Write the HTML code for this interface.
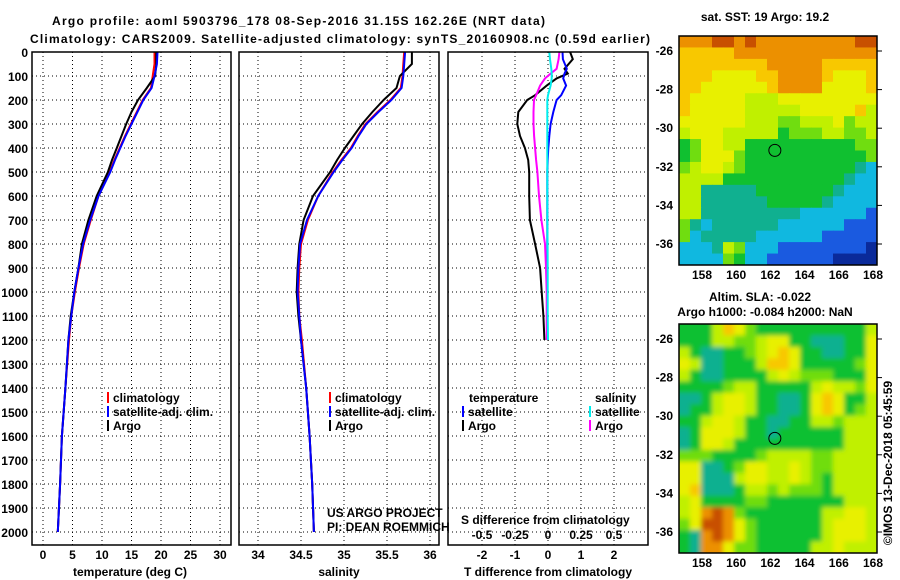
<!DOCTYPE html>
<html><head><meta charset="utf-8"><style>
html,body{margin:0;padding:0;background:#fff;}
svg{display:block;font-family:"Liberation Sans",sans-serif;}
text{font-weight:bold;font-size:12px;fill:#000;}
</style></head><body>
<svg id="fig" width="900" height="580" viewBox="0 0 900 580" xmlns="http://www.w3.org/2000/svg">
<defs>
<clipPath id="clipTop"><rect x="679" y="36" width="198" height="229"/></clipPath>
<clipPath id="clipBot"><rect x="679" y="324" width="198" height="229"/></clipPath>
<filter id="blur" x="-5%" y="-5%" width="110%" height="110%"><feGaussianBlur stdDeviation="2.5"/></filter>
</defs>
<text x="52" y="25" textLength="493" font-size="14">Argo profile: aoml 5903796_178 08-Sep-2016 31.15S 162.26E (NRT data)</text>
<text x="30" y="43" textLength="620" font-size="14">Climatology: CARS2009. Satellite-adjusted climatology: synTS_20160908.nc (0.59d earlier)</text>
<g id="g"></g>
</svg>
<script>
// ---- data ----
const depths = [0,50,100,150,200,250,300,350,400,450,500,600,700,800,900,1000,1100,1200,1400,1600,1800,2000];
const tArgo = [19.2,19.2,19.0,17.6,16.1,15.0,14.1,13.3,12.5,11.7,11.0,9.1,7.7,6.6,6.0,5.3,4.7,4.3,3.8,3.2,2.9,2.5];
const tSat  = [19.4,19.3,18.9,18.4,17.0,16.0,15.0,14.0,13.1,12.2,11.4,9.4,8.0,6.8,6.0,5.3,4.8,4.3,3.8,3.2,2.9,2.5];
const tClim = [18.9,18.9,18.6,18.3,16.9,15.9,14.9,13.9,13.0,12.1,11.3,9.4,8.1,6.9,6.1,5.4,4.8,4.4,3.8,3.2,2.9,2.5];
const sArgo = [35.79,35.79,35.65,35.61,35.46,35.33,35.21,35.11,35.01,34.92,34.84,34.64,34.53,34.48,34.46,34.45,34.47,34.50,34.56,34.60,34.63,34.65];
const sSat  = [35.71,35.70,35.69,35.67,35.55,35.40,35.26,35.17,35.09,34.98,34.88,34.70,34.57,34.49,34.47,34.46,34.48,34.50,34.56,34.60,34.63,34.65];
const sClim = [35.70,35.69,35.68,35.66,35.54,35.39,35.25,35.16,35.08,34.97,34.87,34.70,34.58,34.50,34.48,34.47,34.48,34.51,34.56,34.60,34.63,34.65];
const dDepths = [0,30,70,90,110,140,180,200,250,300,350,400,450,500,600,700,800,900,1000,1100,1200];
const dTArgo = [0.67,0.75,0.5,0.6,0.26,-0.04,-0.39,-0.63,-0.9,-0.93,-0.85,-0.7,-0.6,-0.57,-0.57,-0.55,-0.39,-0.24,-0.19,-0.14,-0.11];
const dTSat  = [0.44,0.45,0.57,0.5,0.46,0.55,0.4,0.26,0.16,0.08,0.04,0.01,-0.01,-0.02,-0.02,-0.02,-0.02,-0.02,-0.02,-0.02,-0.02];
const dSArgo = [0.086,0.08,0.065,0.02,-0.023,-0.06,-0.09,-0.106,-0.11,-0.11,-0.105,-0.098,-0.09,-0.08,-0.068,-0.05,-0.023,-0.015,-0.01,-0.01,-0.01];
const dSSat  = [0.01,0.015,0.025,0.028,0.028,0.02,0.0,-0.005,-0.005,-0.005,-0.005,-0.005,-0.005,-0.005,-0.005,-0.005,-0.003,-0.002,-0.002,-0.002,0.0];
const depthTicks = [0,100,200,300,400,500,600,700,800,900,1000,1100,1200,1300,1400,1500,1600,1700,1800,1900,2000];
const tTicks = [0,5,10,15,20,25,30];
const sTicks = [34,34.5,35,35.5,36];
const dTTicks = [-2,-1,0,1,2];
const dSTicks = [-0.5,-0.25,0,0.25,0.5];
const dSLabels = ["-0.5","-0.25","0","0.25","0.5"];
const lonTicks = [158,160,162,164,166,168];
const latTicks = [-26,-28,-30,-32,-34,-36];
const argoLon = 162.26, argoLat = -31.15;
const sstGrid = [
"999aa9a999999999aa",
"888889999999999999",
"888888889999988888",
"888777788999987778",
"887777778999977778",
"877777666777777777",
"877777666667777786",
"777777666556667566",
"677766666455566556",
"457766444444444455",
"457775444444444445",
"567765444444444432",
"666644444444444322",
"663333344444443222",
"663333334444432222",
"663333333332222221",
"532333333222222111",
"523333322222211111",
"222365222111111110",
"222254221111110000"];
const slaGrid = [
"444687544444444446",
"444665567744333447",
"643344567874433447",
"763344468874444457",
"643344446765554447",
"444456644444676657",
"334677644334787446",
"344677644334787456",
"446776443344665666",
"347776443444444666",
"347764444444444666",
"555444456666556666",
"773345776676556666",
"773336776676546666",
"783334665655546666",
"674444554444444666",
"679a95444444466776",
"57aa97544444467776",
"439a97544444467776",
"439975544444667666"];

// ---- scales ----
const Y0=52, Ybot=545;
const yD = d => Y0 + d*0.24;
const xT = t => 43 + t*5.9;
const xS = s => 258 + (s-34)*86;
const xDT = v => 548 + v*33;
const xDS = v => 548 + v*132;
const xLon = l => 702 + (l-158)*17.1;
const yLatTop = l => 51 + (-26-l)*19.3;
const yLatBot = l => 339 + (-26-l)*19.3;

const NS="http://www.w3.org/2000/svg";
const root=document.getElementById('g');
function mk(tag, attrs, parent){const e=document.createElementNS(NS,tag);for(const k in attrs)e.setAttribute(k,attrs[k]);(parent||root).appendChild(e);return e;}
function txt(x,y,s,anchor,parent,size){const e=mk('text',{x:x,y:y,'text-anchor':anchor||'start'},parent);if(size)e.setAttribute('font-size',size);e.textContent=s;return e;}

const panels=[{x0:32,x1:231,name:'temperature-panel'},{x0:239,x1:439,name:'salinity-panel'},{x0:448,x1:648,name:'difference-panel'}];
panels.forEach((p,i)=>{
  const g=mk('g',{});
  
  
  depthTicks.forEach(d=>{ if(d>0) mk('line',{x1:p.x0,x2:p.x1,y1:yD(d),y2:yD(d),stroke:'#000','stroke-width':1,'stroke-dasharray':'1,3'},g);});
  let xs = i==0? tTicks.map(xT) : i==1? sTicks.map(xS) : dTTicks.map(xDT);
  xs.forEach(x=>mk('line',{x1:x,x2:x,y1:Y0,y2:Ybot,stroke:'#000','stroke-width':1,'stroke-dasharray':'1,3'},g));
  p.g=g;
});

function series(xf, xs, ds, color, g, name){
  const pts=xs.map((v,k)=>xf(v).toFixed(1)+','+yD(ds[k]).toFixed(1)).join(' ');
  const e=mk('polyline',{points:pts,fill:'none',stroke:color,'stroke-width':2},g);
  
  
}
series(xT,tClim,depths,'#f00',panels[0].g,'temp-climatology-line');
series(xT,tArgo,depths,'#000',panels[0].g,'temp-argo-line');
series(xT,tSat,depths,'#00f',panels[0].g,'temp-satellite-line');
series(xS,sClim,depths,'#f00',panels[1].g,'sal-climatology-line');
series(xS,sArgo,depths,'#000',panels[1].g,'sal-argo-line');
series(xS,sSat,depths,'#00f',panels[1].g,'sal-satellite-line');
series(xDT,dTArgo,dDepths,'#000',panels[2].g,'tdiff-argo-line');
series(xDT,dTSat,dDepths,'#00f',panels[2].g,'tdiff-satellite-line');
series(xDS,dSArgo,dDepths,'#f0f',panels[2].g,'sdiff-argo-line');
series(xDS,dSSat,dDepths,'#0ee',panels[2].g,'sdiff-satellite-line');

panels.forEach(p=>{ mk('rect',{x:p.x0,y:Y0,width:p.x1-p.x0,height:Ybot-Y0,fill:'none',stroke:'#000','stroke-width':1.5},p.g); });

// axes labels
const ya=mk('g',{});


depthTicks.forEach(d=>txt(28,yD(d)+5,String(d),'end',ya));
function xAxis(ticks,labels,xf,name,title,tx){
  const g=mk('g',{});
  
  
  ticks.forEach((t,k)=>txt(xf(t),559,labels[k],'middle',g));
  txt(tx,576,title,'middle',g);
}
xAxis(tTicks,tTicks.map(String),xT,'temperature-x-axis','temperature (deg C)',130);
xAxis(sTicks,sTicks.map(String),xS,'salinity-x-axis','salinity',339);
xAxis(dTTicks,dTTicks.map(String),xDT,'tdiff-x-axis','T difference from climatology',548);
const sg=mk('g',{});


dSTicks.forEach((t,k)=>txt(xDS(t),539,dSLabels[k],'middle',sg));
txt(461,524,'S difference from climatology','start',sg);

// legends
function legend(x,y,color,label,name){
  const g=mk('g',{});
  
  
  mk('rect',{x:x,y:y-10,width:2,height:11,fill:color},g);
  txt(x+6,y,label,'start',g);
}
legend(107,402,'#f00','climatology','legend-temp-climatology');
legend(107,416,'#00f','satellite-adj. clim.','legend-temp-satellite');
legend(107,430,'#000','Argo','legend-temp-argo');
legend(329,402,'#f00','climatology','legend-sal-climatology');
legend(329,416,'#00f','satellite-adj. clim.','legend-sal-satellite');
legend(329,430,'#000','Argo','legend-sal-argo');
txt(469,402,'temperature','start');
txt(595,402,'salinity','start');
legend(462,416,'#00f','satellite','legend-tdiff-satellite');
legend(462,430,'#000','Argo','legend-tdiff-argo');
legend(589,416,'#0ee','satellite','legend-sdiff-satellite');
legend(589,430,'#f0f','Argo','legend-sdiff-argo');
const c1=txt(327,517,'US ARGO PROJECT','start');c1.setAttribute('font-weight','normal');
const c2=txt(327,531,'PI: DEAN ROEMMICH','start');c2.setAttribute('font-weight','normal');

// maps
const pal={'0':'#0a2a9a','1':'#1a5ae0','2':'#10b8e0','3':'#10b090','4':'#10c030','5':'#70dd10','6':'#c0f000','7':'#e8f000','8':'#f8c800','9':'#ec9000','a':'#c85000'};
function map(grid,top,clip,blur,name,yl){
  const g=mk('g',{'clip-path':'url(#'+clip+')'});
  
  
  const inner=mk('g',blur?{filter:'url(#blur)'}:{},g);
  const nc=grid[0].length, nr=grid.length;
  const cw=198/nc, ch=229/nr, pad=blur?8:0;
  grid.forEach((row,r)=>{ for(let c=0;c<nc;c++){
    mk('rect',{x:679+c*cw-pad*(c==0),y:top+r*ch-pad*(r==0),width:cw+0.6+pad*((c==0)+(c==nc-1)),height:ch+0.6+pad*((r==0)+(r==nr-1)),fill:pal[row[c]]},inner);
  }});
  const circ=mk('circle',{cx:xLon(argoLon),cy:yl(argoLat),r:6,fill:'none',stroke:'#000','stroke-width':1},g);
  
  
  mk('rect',{x:679,y:top,width:198,height:229,fill:'none',stroke:'#000','stroke-width':1.5});
  latTicks.forEach(l=>{ txt(673,yl(l)+4,String(l),'end'); mk('line',{x1:877,x2:882,y1:yl(l),y2:yl(l),stroke:'#000'}); });
  lonTicks.forEach(l=>{ txt(xLon(l),top+243,String(l),'middle'); });
}
map(sstGrid,36,'clipTop',false,'sst-map',yLatTop);
map(slaGrid,324,'clipBot',true,'sla-map',yLatBot);
txt(765,21,'sat. SST: 19 Argo: 19.2','middle');
txt(760,301,'Altim. SLA: -0.022','middle');
txt(765,316,'Argo h1000: -0.084 h2000: NaN','middle');
const ts=txt(0,0,'©IMOS 13-Dec-2018 05:45:59','middle');
ts.setAttribute('font-weight','normal');
ts.setAttribute('transform','translate(892,463) rotate(-90)');


</script>
</body></html>
